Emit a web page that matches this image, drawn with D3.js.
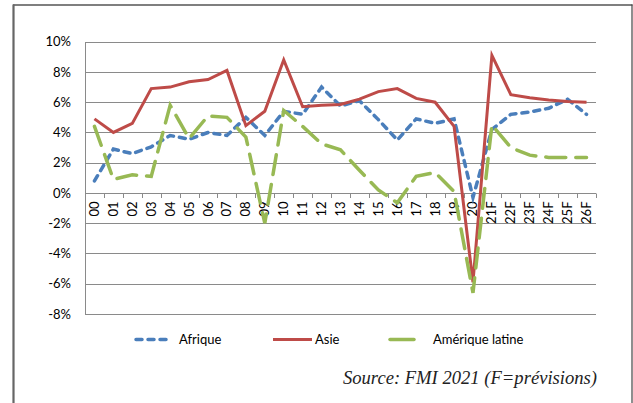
<!DOCTYPE html>
<html>
<head>
<meta charset="utf-8">
<script src="https://cdn.jsdelivr.net/npm/d3@7"></script>
<style>
  html, body { margin: 0; padding: 0; background: #fff; }
  svg { display: block; }
</style>
</head>
<body>
<svg id="chart" width="633" height="403"></svg>
<script>
const categories = ["00","01","02","03","04","05","06","07","08","09","10","11","12","13","14","15","16","17","18","19","20","21F","22F","23F","24F","25F","26F"];
const afrique = [0.8,2.9,2.6,3.05,3.8,3.55,4.0,3.8,5.0,3.8,5.4,5.2,7.0,5.75,6.1,4.85,3.5,4.9,4.6,4.9,-0.3,4.2,5.2,5.35,5.6,6.2,5.2];
const asie = [4.9,4.0,4.6,6.9,7.0,7.35,7.5,8.1,4.45,5.4,8.8,5.7,5.8,5.85,6.2,6.7,6.9,6.25,6.0,4.4,-5.9,9.1,6.5,6.3,6.15,6.05,6.0];
const ameriqueLatine = [4.4,0.9,1.2,1.1,5.8,3.6,5.1,5.0,3.7,-2.0,5.45,4.4,3.25,2.85,1.5,0.2,-0.65,1.1,1.35,0.1,-6.6,4.5,3.0,2.5,2.35,2.35,2.35];
const yTicks = [10,8,6,4,2,0,-2,-4,-6,-8];
const seriesNames = ["Afrique","Asie","Amérique latine"];
const sourceText = "Source: FMI 2021 (F=prévisions)";

const svg = d3.select("#chart");
const plotL = 85, plotR = 596, plotT = 41.7, plotB = 314;

const x = d3.scaleBand().domain(categories).range([plotL, plotR]).paddingInner(0).paddingOuter(0);
const y = d3.scaleLinear().domain([-8, 10]).range([plotB, plotT]);

// frame
svg.append("line").attr("x1", 13).attr("x2", 632.5).attr("y1", 5).attr("y2", 5)
  .attr("stroke", "#555").attr("stroke-width", 1.5);
svg.append("line").attr("x1", 13.5).attr("x2", 13.5).attr("y1", 4.5).attr("y2", 403)
  .attr("stroke", "#666").attr("stroke-width", 2.2);
svg.append("line").attr("x1", 632).attr("x2", 632).attr("y1", 4.5).attr("y2", 403)
  .attr("stroke", "#444").attr("stroke-width", 1.2);

// gridlines
svg.append("g").selectAll("line").data(yTicks).join("line")
  .attr("x1", plotL).attr("x2", plotR)
  .attr("y1", d => Math.round(y(d)) + 0.5).attr("y2", d => Math.round(y(d)) + 0.5)
  .attr("stroke", "#8a8a8a").attr("stroke-width", 1);

// y axis line
svg.append("line").attr("x1", plotL + 0.5).attr("x2", plotL + 0.5)
  .attr("y1", Math.round(y(10)) + 0.5).attr("y2", Math.round(y(-8)) + 0.5)
  .attr("stroke", "#8a8a8a");

// y axis labels
const yAxis = d3.axisLeft(y).tickValues(yTicks).tickFormat(d => d + "%").tickSize(0).tickPadding(14);
const ga = svg.append("g").attr("transform", `translate(${plotL},0)`).call(yAxis);
ga.select(".domain").remove();
ga.selectAll("text").attr("font-family", "Lato, 'Open Sans', sans-serif").attr("font-size", 13).attr("fill", "#000");

// x axis tick marks at band boundaries
const y0 = Math.round(y(0)) + 0.5;
const bounds = categories.map(c => x(c)).concat([x(categories[categories.length - 1]) + x.bandwidth()]);
svg.append("g").selectAll("line").data(bounds).join("line")
  .attr("x1", d => Math.round(d) + 0.5).attr("x2", d => Math.round(d) + 0.5)
  .attr("y1", y0).attr("y2", y0 + 4.5)
  .attr("stroke", "#8a8a8a");

// x labels rotated
svg.append("g").selectAll("text").data(categories).join("text")
  .attr("transform", d => `translate(${x(d) + x.bandwidth() / 2 + 4.5},${y0 + 8}) rotate(-90)`)
  .attr("text-anchor", "end")
  .attr("font-family", "Lato, 'Open Sans', sans-serif").attr("font-size", 13).attr("fill", "#000")
  .text(d => d);

const line = d3.line().x((d, i) => x(categories[i]) + x.bandwidth() / 2).y(d => y(d));

const styles = [
  { data: afrique, color: "#4A7EBB", width: 3.5, dash: "6,6", cap: "round" },
  { data: asie, color: "#BE4B48", width: 3, dash: null, cap: "butt" },
  { data: ameriqueLatine, color: "#98B954", width: 3.5, dash: "20,10", cap: "round" }
];

styles.forEach(s => {
  const p = svg.append("path").datum(s.data)
    .attr("d", line)
    .attr("fill", "none")
    .attr("stroke", s.color)
    .attr("stroke-width", s.width)
    .attr("stroke-linejoin", "miter")
    .attr("stroke-linecap", s.cap);
  if (s.dash) p.attr("stroke-dasharray", s.dash);
});

// legend
const legY = 339.5;
const legItems = [
  { name: seriesNames[0], x1: 136, x2: 172, tx: 179, s: styles[0], dash: "6,6" },
  { name: seriesNames[1], x1: 273, x2: 312, tx: 315, s: styles[1], dash: null },
  { name: seriesNames[2], x1: 390, x2: 414, tx: 433, s: styles[2], dash: null }
];
legItems.forEach(it => {
  const l = svg.append("line").attr("x1", it.x1).attr("x2", it.x2).attr("y1", legY).attr("y2", legY)
    .attr("stroke", it.s.color).attr("stroke-width", it.s.width).attr("stroke-linecap", it.s.cap);
  if (it.dash) l.attr("stroke-dasharray", it.dash);
  svg.append("text").attr("x", it.tx).attr("y", legY + 4.5)
    .attr("font-family", "Lato, 'Open Sans', sans-serif").attr("font-size", 13).attr("fill", "#000")
    .text(it.name);
});

// source
svg.append("text").attr("x", 597).attr("y", 384).attr("text-anchor", "end")
  .attr("font-family", "'Liberation Serif', 'Times New Roman', serif").attr("font-style", "italic")
  .attr("font-size", 18.6).attr("fill", "#222")
  .text(sourceText);
</script>
</body>
</html>
